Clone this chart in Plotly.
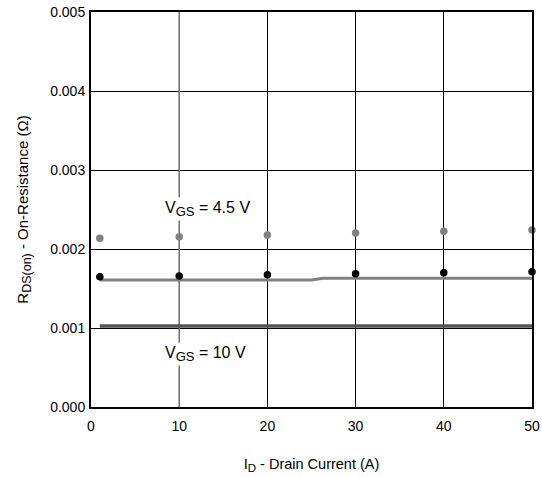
import plotly.graph_objects as go

# Data
id_points = [1, 10, 20, 30, 40, 50]
rds_vgs45_dots = [0.002135, 0.002156, 0.002177, 0.002203, 0.002224, 0.002240]
rds_vgs10_dots = [0.001649, 0.001658, 0.001675, 0.001687, 0.001700, 0.001713]
line_upper_x = [1, 25, 26.3, 50]
line_upper_y = [0.001608, 0.001608, 0.001629, 0.001629]
line_lower_x = [1, 50]
line_lower_y = [0.001025, 0.001025]

x_ticks = [0, 10, 20, 30, 40, 50]
y_ticks = [0.000, 0.001, 0.002, 0.003, 0.004, 0.005]
y_tick_labels = ["0.000", "0.001", "0.002", "0.003", "0.004", "0.005"]

FONT = "Liberation Sans, Arial, Helvetica, sans-serif"

fig = go.Figure()
fig.add_trace(go.Scatter(x=line_lower_x, y=line_lower_y, mode="lines",
                         line=dict(color="#555555", width=3.5), showlegend=False,
                         cliponaxis=False))
fig.add_trace(go.Scatter(x=line_upper_x, y=line_upper_y, mode="lines",
                         line=dict(color="#808080", width=3), showlegend=False,
                         cliponaxis=False))
fig.add_trace(go.Scatter(x=id_points, y=rds_vgs45_dots, mode="markers",
                         marker=dict(color="#808080", size=7.5), showlegend=False,
                         cliponaxis=False))
fig.add_trace(go.Scatter(x=id_points, y=rds_vgs10_dots, mode="markers",
                         marker=dict(color="#000000", size=7.5), showlegend=False,
                         cliponaxis=False))

# gray gridline / leader at x=10 (drawn over the black gridline, under the data)
fig.add_shape(type="line", x0=10, x1=10, y0=0, y1=0.005, xref="x", yref="y",
              line=dict(color="#777777", width=1.5), layer="between")

sub = '<sub><span style="font-size:13px">GS</span></sub>'
fig.add_annotation(x=8.15, y=0.00251, text="V" + sub + " = 4.5 V", showarrow=False,
                   xanchor="left", bgcolor="white", font=dict(size=16, color="black"),
                   borderpad=1)
fig.add_annotation(x=8.15, y=0.00067, text="V" + sub + " = 10 V", showarrow=False,
                   xanchor="left", bgcolor="white", font=dict(size=16, color="black"),
                   borderpad=1)

fig.update_layout(
    width=542, height=477,
    margin=dict(l=91, r=10, t=12, b=70, autoexpand=False),
    paper_bgcolor="white", plot_bgcolor="white",
    font=dict(family=FONT, size=14, color="black"),
    xaxis=dict(range=[0, 50], tickvals=x_ticks, ticks="", showgrid=True,
               gridcolor="black", gridwidth=1, showline=True, linecolor="black",
               linewidth=2, mirror=True, zeroline=False, automargin=False,
               ticklabelstandoff=5,
               title=dict(text='I<sub><span style="font-size:11.5px">D</span></sub> - Drain Current (A)',
                          font=dict(size=14.5), standoff=26)),
    yaxis=dict(range=[0, 0.005], tickvals=y_ticks, ticktext=y_tick_labels, ticks="",
               showgrid=True, gridcolor="black", gridwidth=1, showline=True,
               linecolor="black", linewidth=2, mirror=True, zeroline=False,
               automargin=False, ticklabelstandoff=1,
               title=dict(text='R<sub><span style="font-size:12.5px">DS(on)</span></sub> - On-Resistance (Ω)',
                          font=dict(size=15), standoff=18)),
)

fig.write_html("out.html", config={"displayModeBar": False},
               post_script="document.body.style.margin='0px';")
